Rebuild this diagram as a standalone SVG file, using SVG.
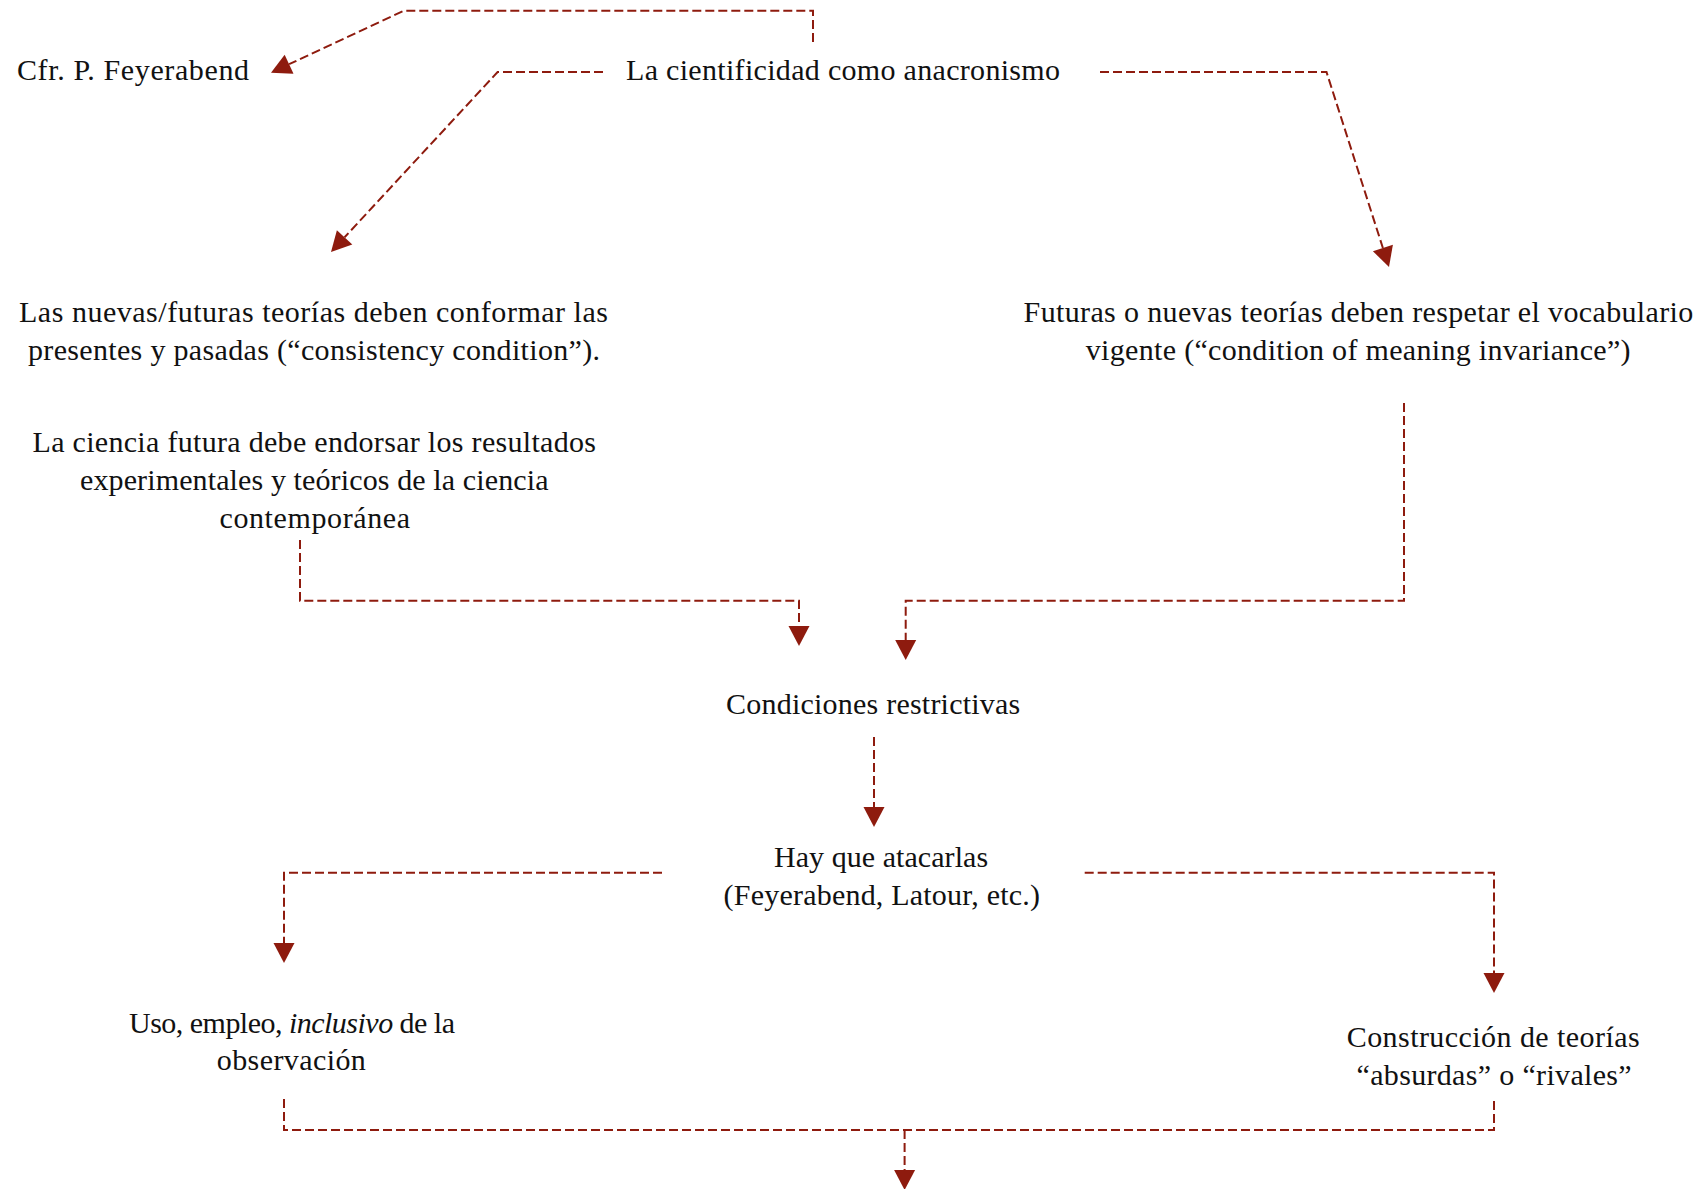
<svg xmlns="http://www.w3.org/2000/svg" width="1706" height="1189" viewBox="0 0 1706 1189">
<style>
  text { font-family: "Liberation Serif", "Times New Roman", serif; font-size: 30px; fill: #111111; }
  .conn { fill: none; stroke: #8E1B0E; stroke-width: 2; stroke-dasharray: 9 4; }
</style>
<defs>
  <marker id="arrow" markerUnits="userSpaceOnUse" markerWidth="20" markerHeight="21" refX="0" refY="10.5" orient="auto" overflow="visible">
    <path d="M0,0 L20,10.5 L0,21 Z" fill="#8E1B0E"/>
  </marker>
</defs>
<rect width="1706" height="1189" fill="#ffffff"/>

<g id="connectors">
  <path class="conn" d="M813,42 V10.7 H404 L289.1,64.2" marker-end="url(#arrow)"/>
  <path class="conn" d="M603,72 H497.6 L344.6,237.3" marker-end="url(#arrow)"/>
  <path class="conn" d="M1100,72 H1326.5 L1382.9,248" marker-end="url(#arrow)"/>
  <path class="conn" d="M300,540 V600.7 H799 V626" marker-end="url(#arrow)"/>
  <path class="conn" d="M1404,403 V600.7 H905.7 V640" marker-end="url(#arrow)"/>
  <path class="conn" d="M874,737 V807" marker-end="url(#arrow)"/>
  <path class="conn" d="M662,872.7 H284 V943" marker-end="url(#arrow)"/>
  <path class="conn" d="M1084.7,872.7 H1494 V973" marker-end="url(#arrow)"/>
  <path class="conn" d="M284,1099 V1130 H1494 V1099"/>
  <path class="conn" d="M904.6,1130 V1170" marker-end="url(#arrow)"/>
</g>

<g id="node-cfr">
  <text x="17" y="80" textLength="232" lengthAdjust="spacing">Cfr. P. Feyerabend</text>
</g>
<g id="node-anacronismo">
  <text x="626" y="80" textLength="434" lengthAdjust="spacing">La cientificidad como anacronismo</text>
</g>
<g id="node-consistency">
  <text x="19" y="322" textLength="589" lengthAdjust="spacing">Las nuevas/futuras teorías deben conformar las</text>
  <text x="28" y="360" textLength="572" lengthAdjust="spacing">presentes y pasadas (“consistency condition”).</text>
</g>
<g id="node-invariance">
  <text x="1023.6" y="322" textLength="669.7" lengthAdjust="spacing">Futuras o nuevas teorías deben respetar el vocabulario</text>
  <text x="1085.8" y="360" textLength="544.8" lengthAdjust="spacing">vigente (“condition of meaning invariance”)</text>
</g>
<g id="node-ciencia-futura">
  <text x="32.5" y="451.7" textLength="563.5" lengthAdjust="spacing">La ciencia futura debe endorsar los resultados</text>
  <text x="80" y="490" textLength="468.5" lengthAdjust="spacing">experimentales y teóricos de la ciencia</text>
  <text x="219.5" y="528" textLength="190.5" lengthAdjust="spacing">contemporánea</text>
</g>
<g id="node-condiciones">
  <text x="726" y="714" textLength="294.3" lengthAdjust="spacing">Condiciones restrictivas</text>
</g>
<g id="node-atacarlas">
  <text x="774" y="866.7" textLength="214.1" lengthAdjust="spacing">Hay que atacarlas</text>
  <text x="723.6" y="905" textLength="316.4" lengthAdjust="spacing">(Feyerabend, Latour, etc.)</text>
</g>
<g id="node-observacion">
  <text x="129" y="1032.7" textLength="326" lengthAdjust="spacing">Uso, empleo, <tspan font-style="italic">inclusivo</tspan> de la</text>
  <text x="216.8" y="1070" textLength="149" lengthAdjust="spacing">observación</text>
</g>
<g id="node-construccion">
  <text x="1346.7" y="1046.7" textLength="293" lengthAdjust="spacing">Construcción de teorías</text>
  <text x="1356.5" y="1085" textLength="275.2" lengthAdjust="spacing">“absurdas” o “rivales”</text>
</g>
</svg>
